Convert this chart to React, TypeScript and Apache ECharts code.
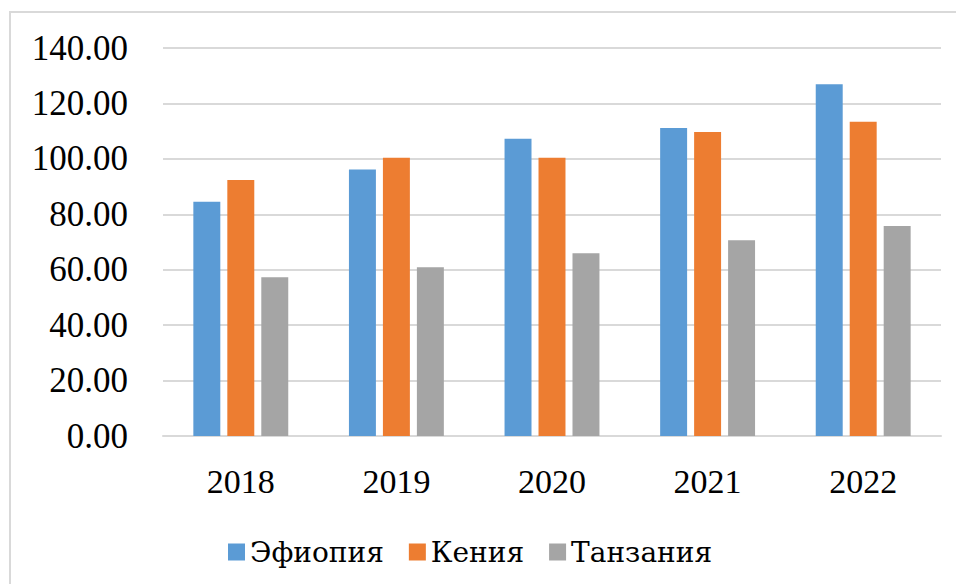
import React, { useEffect, useRef } from "react";
import * as echarts from "echarts";

const years = ["2018", "2019", "2020", "2021", "2022"];
const ethiopia = [84.5, 96.2, 107.3, 111.1, 126.9];
const kenya = [92.4, 100.4, 100.4, 109.7, 113.4];
const tanzania = [57.3, 60.9, 65.9, 70.6, 75.8];
const seriesNames = ["Эфиопия", "Кения", "Танзания"];
const colors = ["#5B9BD5", "#ED7D31", "#A5A5A5"];

const FONT = "Liberation Serif";
const LEGEND_FONT = "DejaVu Serif";

export default function App() {
  const ref = useRef<HTMLDivElement>(null);
  useEffect(() => {
    document.body.style.margin = "0";
    const chart = echarts.init(ref.current!, null, { renderer: "svg" });
    const values = [ethiopia, kenya, tanzania];
    chart.setOption({
      animation: false,
      grid: { left: 163, right: 15, top: 48, bottom: 148 },
      legend: {
        left: 223,
        top: 533,
        itemWidth: 17,
        itemHeight: 17,
        itemGap: 25,
        icon: "rect",
        textStyle: { fontFamily: LEGEND_FONT, fontSize: 28, color: "#000" },
        data: seriesNames,
      },
      xAxis: {
        type: "category",
        data: years,
        axisLine: { lineStyle: { color: "#D9D9D9", width: 2 } },
        axisTick: { show: false },
        axisLabel: { fontFamily: FONT, fontSize: 34, color: "#000", margin: 28 },
      },
      yAxis: {
        type: "value",
        min: 0,
        max: 140,
        interval: 20,
        splitLine: { lineStyle: { color: "#D9D9D9", width: 2 } },
        axisLabel: {
          fontFamily: FONT,
          fontSize: 35,
          color: "#000",
          margin: 35,
          formatter: (v: number) => v.toFixed(2),
        },
      },
      series: seriesNames.map((name, i) => ({
        name,
        type: "bar",
        data: values[i],
        barGap: "26%",
        barCategoryGap: "39%",
        itemStyle: { color: colors[i] },
      })),
    });
    return () => chart.dispose();
  }, []);
  return (
    <div style={{ position: "relative", width: 956, height: 584, overflow: "hidden", background: "#fff" }}>
      <div ref={ref} style={{ width: 956, height: 584 }} />
      <div
        style={{
          position: "absolute",
          left: 9,
          top: 11,
          width: 1000,
          height: 700,
          border: "2px solid #D9D9D9",
          pointerEvents: "none",
        }}
      />
    </div>
  );
}
